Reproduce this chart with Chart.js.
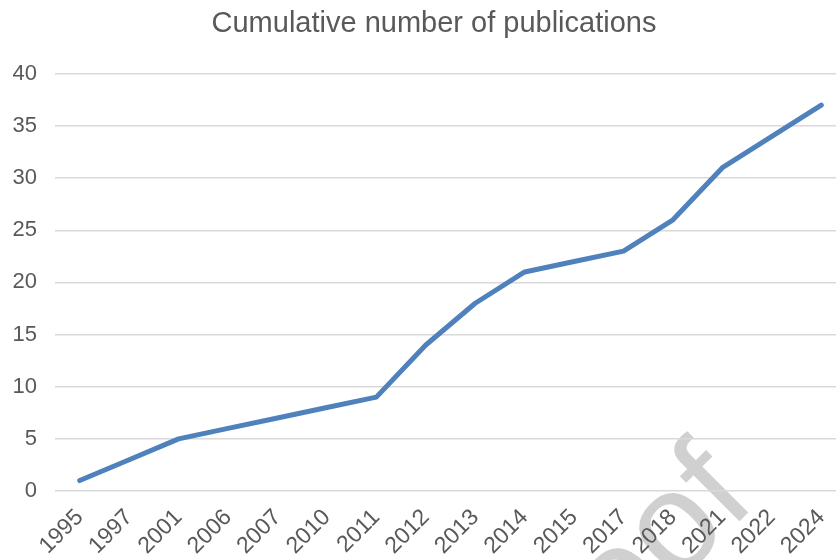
<!DOCTYPE html>
<html>
<head>
<meta charset="utf-8">
<script src="https://cdn.jsdelivr.net/npm/chart.js@4/dist/chart.umd.min.js"></script>
<style>
  html, body { margin: 0; padding: 0; background: #fff; overflow: hidden; }
  #wrap { position: relative; width: 846px; height: 560px; }
</style>
</head>
<body>
<div id="wrap"><canvas id="c"></canvas></div>
<script>
const years = ['1995','1997','2001','2006','2007','2010','2011','2012','2013','2014','2015','2017','2018','2021','2022','2024'];
const publications = [1, 3, 5, 6, 7, 8, 9, 14, 18, 21, 22, 23, 26, 31, 34, 37];
const yTicks = [0, 5, 10, 15, 20, 25, 30, 35, 40];
const titleText = 'Cumulative number of publications';
const watermarkText = 'Proof';

const FONT = '"Liberation Sans", Arial, sans-serif';

const watermark = {
  id: 'watermark',
  beforeDraw(chart) {
    const ctx = chart.ctx;
    ctx.save();
    ctx.translate(640, 536);
    ctx.rotate(-Math.PI / 4);
    ctx.font = '140px ' + FONT;
    ctx.fillStyle = 'rgba(200,200,200,0.85)';
    ctx.textAlign = 'center';
    ctx.textBaseline = 'alphabetic';
    ctx.fillText(watermarkText, -60, 60);
    ctx.restore();
  }
};

// Draw the title centred on the visible 836px window (the layout title is kept for spacing)
const visibleTitle = {
  id: 'visibleTitle',
  afterDraw(chart) {
    const ctx = chart.ctx;
    const t = chart.titleBlock;
    ctx.save();
    ctx.font = '29px ' + FONT;
    ctx.fillStyle = '#595959';
    ctx.textAlign = 'center';
    ctx.textBaseline = 'middle';
    ctx.fillText(titleText, 434, t.top + 7 + 29 * 1.2 / 2);
    ctx.restore();
  }
};

new Chart(document.getElementById('c'), {
  type: 'line',
  data: {
    labels: years,
    datasets: [{
      data: publications,
      borderColor: '#4f81bd',
      borderWidth: 5,
      borderCapStyle: 'round',
      borderJoinStyle: 'round',
      pointRadius: 0,
      tension: 0,
      fill: false
    }]
  },
  options: {
    responsive: true,
    maintainAspectRatio: false,
    animation: false,
    layout: { padding: { left: 0, right: 0, top: 0, bottom: 0 } },
    plugins: {
      legend: { display: false },
      tooltip: { enabled: false },
      title: {
        display: true,
        text: titleText,
        color: 'rgba(0,0,0,0)',
        font: { family: FONT, size: 29, weight: 'normal' },
        padding: { top: 7, bottom: 32 }
      }
    },
    scales: {
      x: {
        offset: true,
        grid: { display: false },
        border: { display: false },
        ticks: {
          color: '#595959',
          font: { family: FONT, size: 23 },
          minRotation: 45,
          maxRotation: 45,
          autoSkip: false,
          padding: 5
        },
        afterFit(scale) { scale.height = 69; }
      },
      y: {
        min: 0,
        max: 40,
        afterBuildTicks(scale) { scale.ticks = yTicks.map(v => ({ value: v })); },
        grid: { color: '#d9d9d9', lineWidth: 1.5, drawTicks: false },
        border: { display: false },
        ticks: {
          color: '#595959',
          font: { family: FONT, size: 22 },
          padding: 18
        },
        afterFit(scale) { scale.width = 55; }
      }
    }
  },
  plugins: [watermark, visibleTitle]
});
</script>
</body>
</html>
